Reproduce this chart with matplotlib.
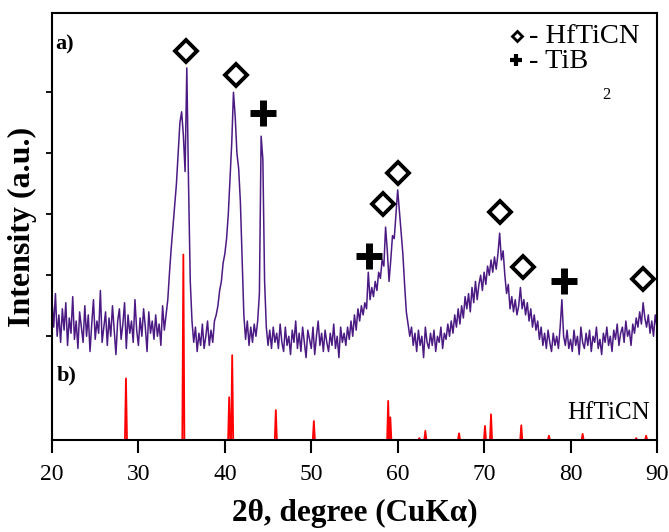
import numpy as np
import matplotlib
matplotlib.use("Agg")
import matplotlib.pyplot as plt

plt.rcParams['font.family'] = ['Liberation Serif', 'DejaVu Serif']
plt.rcParams['mathtext.fontset'] = 'stix'

# measured pattern a), 0.2 degree step from 20 to 90
TWO_THETA_START = 20.0
TWO_THETA_STEP = 0.2
intensity_a = [
    2.30, 1.85, 2.40, 1.70, 2.05, 1.60, 2.15, 1.80, 2.25, 1.55,  # 20
    2.00, 1.75, 2.35, 1.65, 1.95, 1.50, 2.10, 1.85, 1.60, 2.20,  # 22
    1.70, 2.05, 1.45, 1.90, 2.30, 1.65, 1.95, 1.75, 2.45, 1.60,  # 24
    1.85, 2.10, 1.55, 2.00, 1.70, 2.20, 1.80, 1.40, 1.95, 2.15,  # 26
    1.65, 1.90, 2.25, 1.50, 2.05, 1.75, 1.95, 1.60, 2.30, 1.80,  # 28
    1.55, 2.00, 1.70, 2.15, 1.85, 1.45, 2.10, 1.75, 1.95, 1.65,  # 30
    2.05, 1.70, 1.90, 1.55, 2.20, 1.80, 2.05, 2.30, 2.75, 3.15,  # 32
    3.50, 3.85, 4.20, 4.70, 5.20, 5.38, 5.00, 4.40, 6.10, 4.20,  # 34
    2.60, 1.95, 1.60, 1.85, 1.45, 1.75, 1.55, 1.90, 1.50, 1.70,  # 36
    1.95, 1.55, 1.80, 1.60, 1.95, 2.05, 2.20, 2.45, 2.60, 2.90,  # 38
    3.05, 3.30, 3.70, 4.30, 4.87, 5.70, 5.30, 4.70, 4.45, 3.90,  # 40
    3.00, 2.05, 1.65, 1.95, 1.55, 1.85, 1.60, 1.90, 1.70, 1.95,  # 42
    2.40, 4.98, 4.60, 2.60, 1.85, 1.55, 1.80, 1.50, 1.85, 1.60,  # 44
    1.75, 1.50, 1.90, 1.60, 1.45, 1.85, 1.55, 1.70, 1.40, 1.80,  # 46
    1.60, 1.95, 1.50, 1.75, 1.45, 1.85, 1.60, 1.35, 1.80, 1.65,  # 48
    1.50, 1.85, 1.40, 1.70, 1.95, 1.55, 1.75, 1.45, 1.80, 1.60,  # 50
    1.45, 1.75, 1.55, 1.90, 1.50, 1.70, 1.35, 1.85, 1.60, 1.75,  # 52
    1.55, 1.85, 1.65, 1.95, 1.70, 2.05, 1.80, 2.15, 1.95, 2.20,  # 54
    2.05, 2.25, 2.15, 2.75, 2.30, 2.50, 2.35, 2.60, 2.45, 2.75,  # 56
    2.65, 2.95, 2.85, 3.49, 3.10, 2.60, 2.95, 3.35, 3.30, 3.70,  # 58
    4.10, 3.75, 3.40, 3.05, 2.55, 2.10, 1.90, 1.70, 1.85, 1.55,  # 60
    1.75, 1.45, 1.80, 1.55, 1.70, 1.35, 1.85, 1.60, 1.50, 1.75,  # 62
    1.55, 1.80, 1.45, 1.70, 1.60, 1.85, 1.50, 1.75, 1.65, 1.90,  # 64
    1.70, 1.95, 1.75, 2.05, 1.85, 2.15, 1.90, 2.20, 2.00, 2.35,  # 66
    2.15, 2.40, 2.10, 2.50, 2.25, 2.60, 2.30, 2.55, 2.70, 2.45,  # 68
    2.75, 2.55, 2.85, 2.70, 2.95, 2.75, 3.00, 2.80, 3.05, 3.39,  # 70
    2.95, 3.10, 2.70, 2.40, 2.55, 2.15, 2.35, 2.10, 2.30, 2.05,  # 72
    2.20, 2.50, 2.15, 2.30, 2.05, 2.25, 1.95, 2.15, 1.85, 2.05,  # 74
    1.80, 1.95, 1.65, 1.85, 1.55, 1.75, 1.50, 1.80, 1.60, 1.45,  # 76
    1.75, 1.55, 1.70, 1.50, 1.85, 2.30, 1.70, 1.55, 1.80, 1.50,  # 78
    1.65, 1.45, 1.80, 1.55, 1.70, 1.40, 1.85, 1.60, 1.50, 1.75,  # 80
    1.55, 1.80, 1.45, 1.70, 1.60, 1.85, 1.50, 1.65, 1.40, 1.75,  # 82
    1.60, 1.85, 1.55, 1.70, 1.45, 1.80, 1.65, 1.90, 1.55, 1.75,  # 84
    1.85, 1.60, 1.95, 1.70, 1.80, 1.55, 1.90, 1.75, 2.00, 1.85,  # 86
    2.10, 1.90, 2.25, 2.00, 1.85, 2.05, 1.75, 1.95, 1.70, 2.05,  # 88
    1.85,                                                        # 90
]

# reference pattern b) HfTiCN: line positions and heights
ref_pos = [28.56, 35.2, 40.5, 40.85, 45.9, 50.3, 58.9, 59.15, 62.5, 63.2,
           67.1, 70.1, 70.8, 74.3, 77.5, 81.4, 87.6, 88.75]
ref_height = [1.01, 3.04, 0.70, 1.39, 0.49, 0.31, 0.64, 0.37, 0.03, 0.15,
              0.11, 0.23, 0.42, 0.24, 0.07, 0.10, 0.03, 0.07]

# phase markers on pattern a)
hfticn_pos = [35.5, 41.3, 58.3, 60.0, 71.85, 74.5, 88.4]
hfticn_y = [6.38, 5.98, 3.87, 4.38, 3.74, 2.84, 2.64]
tib2_pos = [44.4, 56.7, 79.2]
tib2_y = [5.36, 3.02, 2.61]

x_ticks = [20, 30, 40, 50, 60, 70, 80, 90]
y_ticks = [1.7, 2.7, 3.7, 4.7, 5.7]

PURPLE = '#4b1a83'
RED = '#ff0000'

fig = plt.figure(figsize=(6.69, 5.32), dpi=100)
ax = fig.add_axes([0.0777, 0.173, 0.9043, 0.8026])

two_theta = TWO_THETA_START + TWO_THETA_STEP * np.arange(len(intensity_a))
ax.plot(two_theta, intensity_a, color=PURPLE, lw=1.1, zorder=2)

# build the stick pattern as narrow peaks on a zero baseline
half_w = 0.12
rx, ry = [20.0], [0.0]
for p, h in zip(ref_pos, ref_height):
    rx += [p - half_w, p, p + half_w]
    ry += [0.0, h, 0.0]
rx.append(90.0)
ry.append(0.0)
ax.plot(rx, ry, color=RED, lw=1.3, zorder=1)

ax.plot(hfticn_pos, hfticn_y, ls='none', marker='D', ms=11.5, mfc='white',
        mec='black', mew=2.8, zorder=4)
ax.plot(tib2_pos, tib2_y, ls='none', marker='+', ms=19, mec='black',
        mew=5, zorder=4)

# legend in the top right corner
ax.plot([73.8], [6.62], ls='none', marker='D', ms=5, mfc='white', mec='black', mew=2)
ax.plot([73.7], [6.23], ls='none', marker='+', ms=9, mec='black', mew=3)
ax.text(75.2, 6.62, '- HfTiCN', fontsize=20.5, va='center', ha='left')
ax.text(75.2, 6.21, '- TiB', fontsize=20.5, va='center', ha='left')
ax.text(83.7, 5.66, '2', fontsize=12, va='center', ha='left')

ax.text(20.35, 6.48, 'a)', fontsize=16, fontweight='bold', va='center')
ax.text(20.6, 1.05, 'b)', fontsize=16, fontweight='bold', va='center')
ax.text(89.2, 0.34, 'HfTiCN', fontsize=18, ha='right', va='baseline')

ax.set_xlim(20, 90)
ax.set_ylim(0, 7)
ax.set_xticks(x_ticks)
ax.set_yticks(y_ticks)
ax.set_yticklabels([])
ax.tick_params(axis='x', direction='out', length=9, width=1.5, labelsize=17, pad=8)
ax.tick_params(axis='y', direction='out', length=4, width=1.3)
for s in ax.spines.values():
    s.set_linewidth(1.5)

ax.set_xlabel('2θ, degree (CuKα)', fontsize=22.5, fontweight='bold', labelpad=10)
ax.set_ylabel('Intensity (a.u.)', fontsize=23, fontweight='bold', labelpad=3)

fig.savefig('out.png', dpi=100)
